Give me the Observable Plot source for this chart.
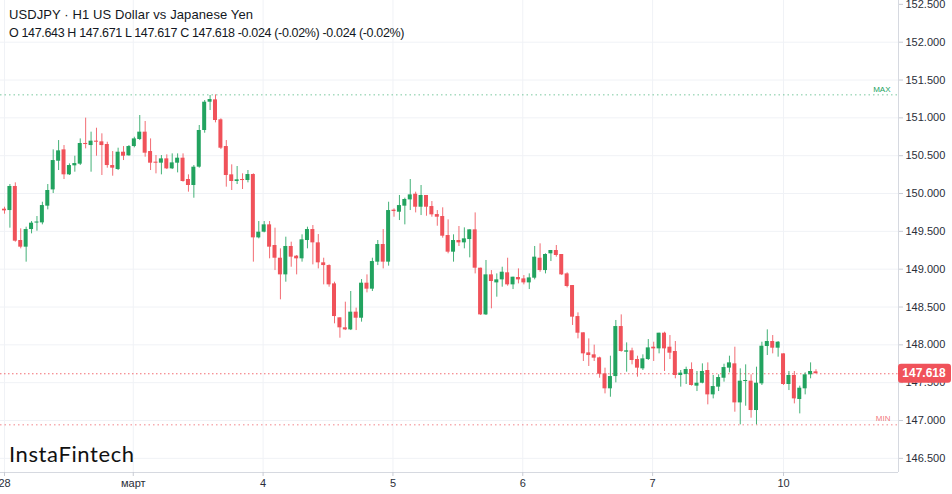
<!DOCTYPE html>
<html>
<head>
<meta charset="utf-8">
<script src="https://cdn.jsdelivr.net/npm/d3@7"></script>
<script src="https://cdn.jsdelivr.net/npm/@observablehq/plot@0.6"></script>
<style>
  html, body { margin: 0; padding: 0; background: #fff; }
  #wrap { position: relative; width: 952px; height: 494px; overflow: hidden; font-family: "Liberation Sans", Arial, sans-serif; }
  #chart { position: absolute; left: 0; top: 0; }
  #hdr { position: absolute; left: 9px; top: 5px; font-size: 13px; line-height: 19px; color: #131722; }
  #hdr .l1 { letter-spacing: 0.1px; }
  #hdr .l2 { font-size: 12.5px; letter-spacing: -0.35px; }
  #logo { position: absolute; left: 9px; top: 440px; font-family: Lato, "Open Sans", sans-serif; font-size: 22px; letter-spacing: 0.6px; color: #111; }
</style>
</head>
<body>
<div id="wrap">
  <div id="chart"></div>
  <div id="hdr">
    <div class="l1">USDJPY · H1 US Dollar vs Japanese Yen</div>
    <div class="l2">O 147.643 H 147.671 L 147.617 C 147.618 -0.024 (-0.02%) -0.024 (-0.02%)</div>
  </div>
  <div id="logo">InstaFintech</div>
</div>
<script>
// ---- data (hourly candles) ----
const open = [149.793,149.775,150.093,149.379,149.291,149.524,149.612,149.612,149.833,150.048,150.427,150.577,150.247,150.366,150.388,150.661,150.634,150.692,150.683,150.648,150.370,150.317,150.546,150.498,150.621,150.714,150.811,150.555,150.414,150.401,150.458,150.326,150.401,150.467,150.185,150.106,150.348,150.833,151.207,151.238,150.974,150.621,150.247,150.159,150.185,150.172,150.251,149.414,149.489,149.586,149.313,149.145,148.925,149.300,149.172,149.137,149.379,149.524,149.348,149.084,149.048,148.806,148.357,148.225,148.198,148.432,148.352,148.815,148.736,149.093,149.326,149.093,149.780,149.753,149.833,149.916,149.991,149.819,149.974,149.828,149.722,149.696,149.445,149.225,149.379,149.348,149.392,149.520,149.013,148.396,148.925,148.819,148.859,148.952,148.793,148.890,148.872,148.819,148.881,149.145,148.982,149.203,149.247,149.194,148.938,148.784,148.374,148.159,147.894,147.868,147.828,147.617,147.419,147.581,148.242,147.903,147.921,147.806,147.683,147.806,147.969,147.947,148.154,147.969,147.912,147.595,147.608,147.674,147.454,147.493,147.661,147.339,147.441,147.559,147.692,147.749,147.233,147.515,147.520,147.132,147.485,147.978,148.044,147.956,147.881,147.476,147.595,147.278,147.419,147.604,147.643];
const high = [149.819,150.119,150.141,149.533,149.555,149.630,149.696,149.885,150.119,150.577,150.700,150.634,150.392,150.493,150.722,150.996,150.811,150.863,150.789,150.678,150.555,150.599,150.621,150.634,150.744,151.031,150.952,150.722,150.502,150.502,150.511,150.524,150.524,150.524,150.247,150.370,150.899,151.229,151.295,151.304,150.987,150.700,150.379,150.357,150.260,150.304,150.260,149.630,149.630,149.630,149.542,149.269,149.423,149.357,149.181,149.454,149.555,149.577,149.458,149.145,149.057,148.828,148.357,148.564,148.705,148.485,148.863,148.925,149.145,149.379,149.524,149.885,149.797,149.974,149.938,150.185,150.018,150.106,149.974,149.894,149.775,149.811,149.652,149.454,149.564,149.546,149.520,149.744,149.013,149.115,148.982,148.938,149.026,149.145,148.894,149.004,148.916,148.938,149.300,149.335,149.203,149.247,149.313,149.194,148.952,148.784,148.423,148.159,148.079,147.996,147.837,147.692,147.850,148.322,148.396,148.026,147.956,147.850,147.868,148.070,148.035,148.154,148.167,148.123,148.044,147.661,147.705,147.762,147.648,147.749,147.762,147.595,147.604,147.744,147.850,147.969,147.683,147.736,147.604,147.705,148.035,148.198,148.123,148.044,147.881,147.648,147.648,147.454,147.630,147.762,147.671];
const low = [149.727,149.542,149.357,149.269,149.093,149.467,149.502,149.586,149.784,150.000,150.304,150.185,150.238,150.282,150.370,150.590,150.282,150.493,150.238,150.335,150.229,150.304,150.436,150.493,150.604,150.700,150.480,150.304,150.260,150.247,150.317,150.317,150.273,150.150,150.018,149.938,150.335,150.797,151.097,150.934,150.581,150.084,150.040,150.119,150.053,150.141,149.093,149.401,149.480,149.137,148.982,148.595,148.828,149.026,148.925,149.093,149.269,149.057,149.004,148.793,148.762,148.278,148.088,148.189,148.189,148.189,148.300,148.687,148.705,149.048,149.004,149.040,149.687,149.643,149.586,149.775,149.744,149.709,149.700,149.687,149.568,149.410,149.203,149.093,149.300,149.269,149.150,148.938,148.388,148.388,148.476,148.630,148.762,148.775,148.731,148.806,148.793,148.731,148.859,148.960,148.938,149.101,149.159,148.916,148.753,148.256,148.079,147.780,147.714,147.780,147.559,147.352,147.308,147.498,147.903,147.639,147.736,147.573,147.661,147.793,147.780,147.881,147.648,147.806,147.551,147.441,147.476,147.454,147.383,147.485,147.207,147.286,147.383,147.507,147.630,147.110,146.943,147.189,147.031,146.943,147.463,147.859,147.881,147.837,147.463,147.396,147.220,147.088,147.339,147.551,147.617];
const close = [149.771,150.093,149.370,149.291,149.524,149.608,149.621,149.841,150.040,150.436,150.564,150.247,150.370,150.396,150.661,150.648,150.692,150.678,150.634,150.370,150.335,150.546,150.493,150.621,150.722,150.811,150.533,150.401,150.401,150.458,150.326,150.405,150.467,150.159,150.106,150.348,150.833,151.207,151.242,150.965,150.599,150.238,150.159,150.181,150.172,150.251,149.414,149.489,149.586,149.291,149.145,148.925,149.300,149.159,149.137,149.388,149.524,149.348,149.084,149.048,148.793,148.374,148.225,148.198,148.432,148.352,148.815,148.736,149.101,149.326,149.093,149.775,149.762,149.841,149.921,149.982,149.819,149.974,149.819,149.718,149.687,149.436,149.225,149.379,149.348,149.401,149.520,149.013,148.396,148.925,148.837,148.859,148.960,148.793,148.894,148.859,148.819,148.885,149.159,148.982,149.194,149.247,149.181,148.925,148.771,148.366,148.154,147.881,147.859,147.824,147.612,147.419,147.581,148.242,147.912,147.921,147.793,147.692,147.815,147.960,147.947,148.154,147.947,147.890,147.595,147.626,147.674,147.463,147.493,147.648,147.339,147.449,147.568,147.700,147.762,147.233,147.520,147.529,147.132,147.493,147.982,148.044,147.956,148.035,147.476,147.595,147.286,147.427,147.604,147.648,147.618];

// axis ticks
const priceTicks = [146.5,147.0,147.5,148.0,148.5,149.0,149.5,150.0,150.5,151.0,151.5,152.0,152.5];
const dayTickPos = [0, 23.8, 47.8, 71.8, 95.8, 119.8, 144];
const dayTickLabels = ["28", "март", "4", "5", "6", "7", "10"];

const UP = "#22a35f", DOWN = "#f0525a";

const candles = open.map((o, i) => {
  const c = close[i];
  let bTop = Math.max(o, c), bBot = Math.min(o, c);
  if (bTop - bBot < 0.014) { const m = (bTop + bBot) / 2; bTop = m + 0.007; bBot = m - 0.007; }
  return {i, open: o, high: high[i], low: low[i], close: c, bTop, bBot, color: c >= o ? UP : DOWN};
});

const lastClose = close[close.length - 1];
const maxHigh = d3.max(high), minLow = d3.min(low);
const xDomain = [-0.74, 165.25];
const yDomain = [146.313, 152.551];
const tickLabel = new Map(dayTickPos.map((p, k) => [p, dayTickLabels[k]]));

const plot = Plot.plot({
  width: 952, height: 494,
  marginTop: 0, marginRight: 54, marginBottom: 22, marginLeft: 0,
  x: {domain: xDomain, axis: null, label: null},
  y: {domain: yDomain, axis: null, label: null},
  style: {background: "#ffffff", fontFamily: "'Liberation Sans', Arial, sans-serif", fontSize: "11px", color: "#2a2e39"},
  marks: [
    Plot.ruleY(priceTicks.slice(0, -1), {stroke: "#f0f2f6", strokeWidth: 1}),
    Plot.ruleX(dayTickPos, {stroke: "#f0f2f6", strokeWidth: 1}),
    Plot.ruleY([maxHigh], {stroke: UP, strokeOpacity: 0.6, strokeDasharray: "1.5,3"}),
    Plot.ruleY([minLow], {stroke: DOWN, strokeOpacity: 0.7, strokeDasharray: "1.5,3"}),
    Plot.ruleY([lastClose], {stroke: DOWN, strokeOpacity: 0.85, strokeDasharray: "1.5,2.5"}),
    Plot.text([maxHigh], {x: xDomain[1], y: d => d, text: () => "MAX", textAnchor: "end", dx: -8, dy: -5, fontSize: 8, fill: UP}),
    Plot.text([minLow], {x: xDomain[1], y: d => d, text: () => "MIN", textAnchor: "end", dx: -8, dy: -6, fontSize: 8, fill: DOWN, fillOpacity: 0.8}),
    Plot.ruleX(candles, {x: "i", y1: "low", y2: "high", stroke: "color", strokeWidth: 1, strokeOpacity: 0.85}),
    Plot.rect(candles, {x1: d => d.i - 0.37, x2: d => d.i + 0.37, y1: "bBot", y2: "bTop", fill: "color"}),
    Plot.ruleY([yDomain[0]], {stroke: "#d6d9e0"}),
    Plot.ruleX([xDomain[1]], {stroke: "#d6d9e0"}),
    Plot.axisY(priceTicks, {anchor: "right", label: null, tickSize: 4, tickPadding: 3, tickFormat: d => d.toFixed(3), stroke: "#c9ccd4", fill: "#2a2e39", fontSize: 11}),
    Plot.axisX(dayTickPos, {anchor: "bottom", label: null, tickSize: 4, tickPadding: 3, tickFormat: d => tickLabel.get(d), stroke: "#c9ccd4", fill: "#2a2e39", fontSize: 11})
  ]
});

document.getElementById("chart").appendChild(plot);

// current price label in the right margin, positioned through the y scale
const yS = plot.scale("y");
const yc = yS.apply(lastClose);
const svg = d3.select(plot);
svg.append("rect").attr("x", 898).attr("y", yc - 9.5).attr("width", 53).attr("height", 19).attr("rx", 3).attr("fill", DOWN);
svg.append("text").attr("x", 924).attr("y", yc).attr("dy", "0.35em").attr("text-anchor", "middle")
  .attr("fill", "#fff").attr("font-size", 12).attr("font-weight", "bold").text(lastClose.toFixed(3));
</script>
</body>
</html>
